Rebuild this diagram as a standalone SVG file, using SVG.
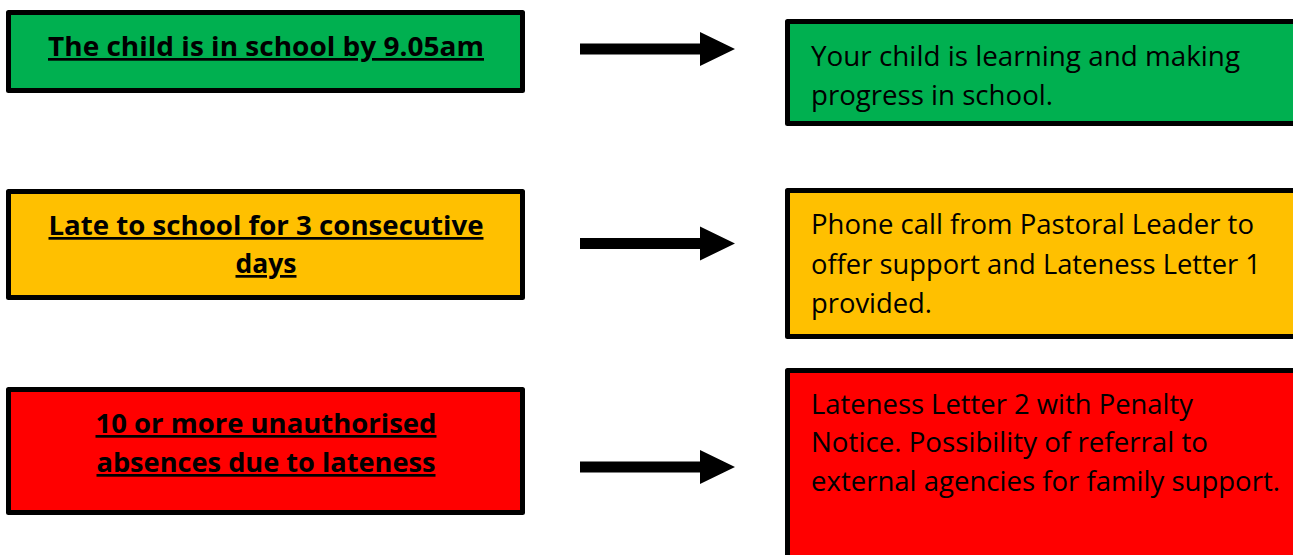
<svg xmlns="http://www.w3.org/2000/svg" width="1293" height="555" viewBox="0 0 1293 555">
<style>
.box{stroke:#000;stroke-width:5;stroke-linejoin:round}
.g{fill:#00B050}.a{fill:#FFC000}.r{fill:#FF0000}
.lt{font-family:"Open Sans","Noto Sans",sans-serif;font-weight:bold;font-size:27px;fill:#000;text-anchor:middle;text-decoration:underline}
.rt{font-family:"Open Sans","Noto Sans",sans-serif;font-size:27px;fill:#000}
.arrow{fill:#000}
</style>
<defs>
<path id="arr" d="M0,-5.5 L120,-5.5 L120,-17 L155,0 L120,17 L120,5.5 L0,5.5 Z"/>
</defs>
<rect width="1293" height="555" fill="#fff"/>
<g id="cond1">
<rect class="box g" x="8.5" y="12.5" width="514" height="78"/>
<text class="lt" x="266" y="56" textLength="436" lengthAdjust="spacingAndGlyphs">The child is in school by 9.05am</text>
</g>
<g id="cond2">
<rect class="box a" x="8.5" y="191.5" width="514" height="106"/>
<text class="lt" x="266" y="235" textLength="435" lengthAdjust="spacingAndGlyphs">Late to school for 3 consecutive</text>
<text class="lt" x="266" y="273" textLength="61" lengthAdjust="spacingAndGlyphs">days</text>
</g>
<g id="cond3">
<rect class="box r" x="8.5" y="389.5" width="514" height="123"/>
<text class="lt" x="266" y="433" textLength="341" lengthAdjust="spacingAndGlyphs">10 or more unauthorised</text>
<text class="lt" x="266" y="472" textLength="339" lengthAdjust="spacingAndGlyphs">absences due to lateness</text>
</g>
<g id="out1">
<rect class="box g" x="787.5" y="21.5" width="520" height="102"/>
<text class="rt" x="811" y="66" textLength="429" lengthAdjust="spacingAndGlyphs">Your child is learning and making</text>
<text class="rt" x="811" y="105" textLength="242" lengthAdjust="spacingAndGlyphs">progress in school.</text>
</g>
<g id="out2">
<rect class="box a" x="787.5" y="190.5" width="520" height="146"/>
<text class="rt" x="811" y="234" textLength="443" lengthAdjust="spacingAndGlyphs">Phone call from Pastoral Leader to</text>
<text class="rt" x="811" y="274" textLength="450" lengthAdjust="spacingAndGlyphs">offer support and Lateness Letter 1</text>
<text class="rt" x="811" y="313" textLength="121" lengthAdjust="spacingAndGlyphs">provided.</text>
</g>
<g id="out3">
<rect class="box r" x="787.5" y="370.5" width="520" height="200"/>
<text class="rt" x="811" y="414" textLength="382" lengthAdjust="spacingAndGlyphs">Lateness Letter 2 with Penalty</text>
<text class="rt" x="811" y="452" textLength="397" lengthAdjust="spacingAndGlyphs">Notice. Possibility of referral to</text>
<text class="rt" x="811" y="491" textLength="469" lengthAdjust="spacingAndGlyphs">external agencies for family support.</text>
</g>
<g id="connectors">
<use href="#arr" class="arrow" x="580" y="49"/>
<use href="#arr" class="arrow" x="580" y="243.5"/>
<use href="#arr" class="arrow" x="580" y="467"/>
</g>
</svg>
